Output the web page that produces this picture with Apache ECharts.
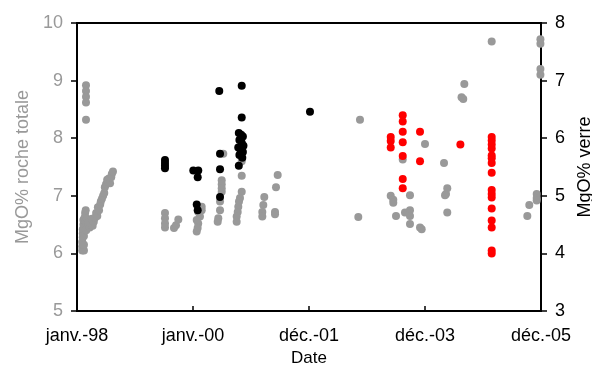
<!DOCTYPE html>
<html>
<head>
<meta charset="utf-8">
<script src="https://cdn.jsdelivr.net/npm/echarts@6/dist/echarts.min.js"></script>
<style>
html,body{margin:0;padding:0;background:#fff;}
#chart{width:592px;height:365px;}
</style>
</head>
<body>
<div id="chart"></div>
<script>
// x tick labels (axis in decimal years, 1998 .. 2006)
var xTickLabels = ['janv.-98', 'janv.-00', 'déc.-01', 'déc.-03', 'déc.-05'];

// Whole-rock MgO (left axis), gray
var grayX = [
  1998.09,1998.09,1998.09,1998.10,1998.10,1998.10,1998.11,1998.11,1998.12,1998.12,1998.12,1998.13,1998.13,1998.14,1998.15,1998.15,1998.16,1998.17,1998.19,1998.21,1998.22,1998.24,1998.26,1998.27,1998.29,1998.31,1998.33,1998.35,1998.36,1998.38,1998.40,1998.41,1998.43,1998.45,1998.47,1998.48,1998.50,1998.52,1998.53,1998.55,1998.57,1998.59,1998.60,1998.62,
  1998.155,1998.155,1998.155,1998.155,1998.155,
  1999.517,1999.517,1999.517,1999.517,1999.672,1999.707,1999.747,
  2000.15,2000.15,2000.09,2000.09,2000.12,2000.064,2000.064,2000.08,
  2000.495,2000.495,2000.495,2000.495,2000.466,2000.466,2000.436,2000.426,2000.522,
  2000.84,2000.84,2000.84,2000.81,2000.793,2000.781,2000.771,2000.753,2000.753,
  2001.229,2001.212,2001.195,2001.195,
  2001.46,2001.431,2001.414,2001.414,
  2002.879,2002.85,
  2003.409,2003.453,2003.453,2003.5,2003.616,2003.655,2003.741,2003.741,2003.741,2003.741,2003.914,2003.943,2004.0,
  2004.328,2004.384,2004.384,2004.362,2004.345,
  2004.63,2004.66,2004.678,
  2005.15,
  2005.764,2005.798,2005.926,2005.926,2005.926,
  2005.99,2005.99,2005.99,2005.99
];
var grayY = [
  6.05,6.12,6.20,6.28,6.35,6.42,6.50,6.58,6.05,6.15,6.30,6.45,6.62,6.70,6.75,6.55,6.40,6.60,6.50,6.55,6.45,6.50,6.60,6.48,6.55,6.62,6.70,6.65,6.80,6.75,6.85,6.90,6.95,7.00,7.05,7.15,7.20,7.28,7.25,7.30,7.22,7.32,7.38,7.42,
  8.92,8.82,8.72,8.62,8.32,
  6.70,6.61,6.52,6.45,6.44,6.49,6.59,
  6.81,6.75,6.72,6.52,6.64,6.58,6.38,6.44,
  7.27,7.20,7.13,7.07,6.90,6.75,6.61,6.55,7.73,
  7.60,7.35,7.07,6.96,6.90,6.81,6.72,6.64,6.55,
  6.98,6.84,6.72,6.64,
  7.36,7.15,6.72,6.68,
  8.32,6.63,
  7.00,6.93,6.88,6.65,7.63,6.71,7.01,6.75,6.65,6.51,6.45,6.42,7.90,
  7.57,7.13,6.71,7.03,7.01,
  8.71,8.68,8.94,
  9.68,
  6.65,6.84,7.03,6.96,6.92,
  9.72,9.64,9.20,9.10
];

// Glass MgO (right axis), black
var blackX = [
  1999.517,1999.517,1999.517,1999.517,
  2000.005,2000.091,2000.081,2000.064,2000.081,
  2000.453,2000.466,2000.466,2000.466,
  2000.84,2000.84,
  2000.79,2000.83,2000.86,2000.80,2000.84,2000.87,2000.78,2000.82,2000.86,2000.80,2000.85,2000.79,
  2002.017
];
var blackY = [
  5.62,5.57,5.52,5.48,
  5.44,5.44,5.32,4.85,4.75,
  6.82,5.73,5.46,4.98,
  6.91,6.36,
  6.09,6.06,6.03,5.97,5.92,5.87,5.84,5.80,5.76,5.71,5.66,5.52,
  6.46
];

// Glass MgO (right axis), red
var redX = [
  2003.409,2003.409,2003.409,
  2003.616,2003.616,2003.616,2003.616,2003.616,2003.616,2003.616,
  2003.914,2003.914,
  2004.61,
  2005.15,2005.15,2005.15,2005.15,2005.15,2005.15,2005.15,2005.15,2005.15,2005.15,2005.15,2005.15,2005.15,2005.15,2005.15,2005.15
];
var redY = [
  6.02,5.95,5.84,
  6.40,6.29,6.11,5.93,5.69,5.29,5.13,
  6.11,5.60,
  5.89,
  6.02,5.96,5.89,5.82,5.70,5.65,5.57,5.40,5.10,5.03,4.97,4.78,4.57,4.45,4.05,4.00
];

function zip(xs, ys){ return xs.map(function(x,i){ return [x, ys[i]]; }); }

var FONT = 'Liberation Sans, Arial, sans-serif';
var chart = echarts.init(document.getElementById('chart'), null, {renderer:'canvas'});
chart.setOption({
  animation: false,
  backgroundColor: '#fff',
  grid: {left: 77, right: 51, top: 23, bottom: 54, containLabel: false, outerBoundsMode: 'none',
         show: true, borderColor: '#000', borderWidth: 2, backgroundColor: 'transparent'},
  xAxis: {
    type: 'value', min: 1998, max: 2006, interval: 2,
    name: 'Date', nameLocation: 'middle', nameGap: 36,
    nameTextStyle: {color: '#000', fontSize: 17, fontFamily: FONT},
    axisLine: {show: true, lineStyle: {color: '#000', width: 2}},
    axisTick: {show: true, inside: true, length: 5, lineStyle: {color: '#000', width: 1.5}},
    splitLine: {show: false},
    axisLabel: {
      color: '#000', fontSize: 18, fontFamily: FONT, margin: 16,
      formatter: function(v){ var i = Math.round((v - 1998) / 2); return xTickLabels[i] || ''; }
    }
  },
  yAxis: [
    {
      type: 'value', min: 5, max: 10, interval: 1, position: 'left',
      name: 'MgO% roche totale', nameLocation: 'middle', nameGap: 44,
      nameTextStyle: {color: '#999', fontSize: 18, fontFamily: FONT},
      axisLine: {show: true, lineStyle: {color: '#000', width: 2}},
      axisTick: {show: true, inside: false, length: 6, lineStyle: {color: '#000', width: 1.5}},
      splitLine: {show: false},
      axisLabel: {color: '#999', fontSize: 18, fontFamily: FONT, margin: 14}
    },
    {
      type: 'value', min: 3, max: 8, interval: 1, position: 'right',
      name: 'MgO% verre', nameLocation: 'middle', nameGap: 34,
      nameTextStyle: {color: '#000', fontSize: 18, fontFamily: FONT},
      axisLine: {show: true, lineStyle: {color: '#000', width: 2}},
      axisTick: {show: true, inside: false, length: 6, lineStyle: {color: '#000', width: 1.5}},
      splitLine: {show: false},
      axisLabel: {color: '#000', fontSize: 18, fontFamily: FONT, margin: 14}
    }
  ],
  series: [
    {type: 'scatter', yAxisIndex: 0, data: zip(grayX, grayY), symbolSize: 8, clip: false, itemStyle: {color: '#999999', opacity: 1}},
    {type: 'scatter', yAxisIndex: 1, data: zip(blackX, blackY), symbolSize: 8, clip: false, itemStyle: {color: '#000000', opacity: 1}},
    {type: 'scatter', yAxisIndex: 1, data: zip(redX, redY), symbolSize: 8, clip: false, itemStyle: {color: '#ff0000', opacity: 1}}
  ]
});
</script>
</body>
</html>
